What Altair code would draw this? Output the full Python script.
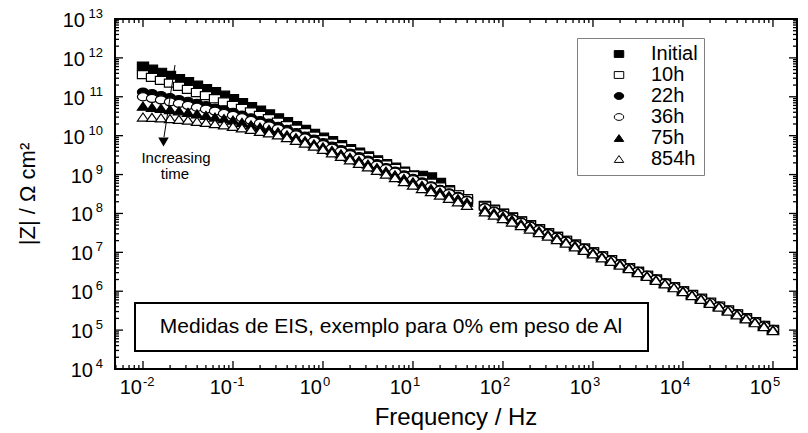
import altair as alt
import pandas as pd

# ---------------- data ----------------
log_freq = [
    -2.0, -1.9, -1.8, -1.7, -1.6, -1.5, -1.4, -1.3, -1.2, -1.1,
    -1.0, -0.9, -0.8, -0.7, -0.6, -0.5, -0.4, -0.3, -0.2, -0.1,
    0.0, 0.1, 0.2, 0.3, 0.4, 0.5, 0.6, 0.7, 0.8, 0.9,
    1.0, 1.1, 1.2, 1.3, 1.4, 1.5, 1.6,
    1.8, 1.9, 2.0, 2.1, 2.2, 2.3, 2.4, 2.5, 2.6, 2.7,
    2.8, 2.9, 3.0, 3.1, 3.2, 3.3, 3.4, 3.5, 3.6, 3.7,
    3.8, 3.9, 4.0, 4.1, 4.2, 4.3, 4.4, 4.5, 4.6, 4.7,
    4.8, 4.9, 5.0,
]

series_names = ["Initial", "10h", "22h", "36h", "75h", "854h"]

log_z_initial = [
    11.79, 11.71, 11.63, 11.55, 11.47, 11.39, 11.30, 11.21, 11.13, 11.04,
    10.95, 10.85, 10.75, 10.66, 10.56, 10.46, 10.36, 10.26, 10.16, 10.06,
    9.96, 9.87, 9.77, 9.67, 9.58, 9.48, 9.38, 9.28, 9.19, 9.09,
    8.99, 8.98, 8.94, 8.80, 8.61, 8.48, 8.33,
    8.21, 8.11, 8.01, 7.91, 7.81, 7.71, 7.61, 7.51, 7.41, 7.31,
    7.21, 7.11, 7.01, 6.91, 6.81, 6.71, 6.61, 6.51, 6.41, 6.31,
    6.21, 6.11, 6.01, 5.91, 5.81, 5.71, 5.61, 5.51, 5.41, 5.31,
    5.21, 5.11, 5.01,
]
log_z_10h = [
    11.57, 11.50, 11.42, 11.35, 11.27, 11.19, 11.11, 11.03, 10.95, 10.87,
    10.78, 10.70, 10.61, 10.52, 10.44, 10.35, 10.26, 10.17, 10.08, 9.99,
    9.90, 9.81, 9.72, 9.62, 9.53, 9.44, 9.34, 9.25, 9.16, 9.06,
    8.97, 8.87, 8.78, 8.68, 8.58, 8.48, 8.38,
    8.19, 8.09, 8.00, 7.90, 7.80, 7.70, 7.60, 7.50, 7.41, 7.31,
    7.21, 7.11, 7.01, 6.91, 6.81, 6.71, 6.61, 6.51, 6.41, 6.31,
    6.21, 6.11, 6.01, 5.92, 5.82, 5.72, 5.62, 5.52, 5.42, 5.32,
    5.22, 5.12, 5.02,
]
log_z_22h = [
    11.12, 11.08, 11.03, 10.98, 10.93, 10.88, 10.83, 10.77, 10.71, 10.66,
    10.60, 10.53, 10.46, 10.39, 10.32, 10.24, 10.16, 10.08, 9.99, 9.91,
    9.82, 9.73, 9.64, 9.55, 9.46, 9.37, 9.28, 9.18, 9.09, 8.99,
    8.90, 8.81, 8.71, 8.62, 8.53, 8.44, 8.34,
    8.15, 8.06, 7.97, 7.87, 7.78, 7.68, 7.59, 7.49, 7.39, 7.30,
    7.20, 7.10, 7.00, 6.90, 6.80, 6.71, 6.61, 6.51, 6.41, 6.31,
    6.21, 6.11, 6.01, 5.91, 5.81, 5.71, 5.61, 5.51, 5.42, 5.32,
    5.22, 5.12, 5.02,
]
log_z_36h = [
    11.00, 10.96, 10.92, 10.87, 10.83, 10.78, 10.73, 10.68, 10.63, 10.57,
    10.52, 10.46, 10.39, 10.32, 10.25, 10.18, 10.10, 10.02, 9.94, 9.86,
    9.77, 9.68, 9.60, 9.51, 9.42, 9.33, 9.24, 9.15, 9.06, 8.96,
    8.87, 8.78, 8.69, 8.60, 8.51, 8.42, 8.33,
    8.14, 8.05, 7.96, 7.86, 7.77, 7.67, 7.58, 7.48, 7.39, 7.29,
    7.19, 7.10, 7.00, 6.90, 6.80, 6.70, 6.60, 6.51, 6.41, 6.31,
    6.21, 6.11, 6.01, 5.91, 5.81, 5.71, 5.61, 5.51, 5.41, 5.31,
    5.21, 5.11, 5.01,
]
log_z_75h = [
    10.76, 10.73, 10.70, 10.67, 10.64, 10.60, 10.56, 10.52, 10.48, 10.44,
    10.40, 10.34, 10.28, 10.22, 10.16, 10.10, 10.02, 9.95, 9.87, 9.79,
    9.71, 9.62, 9.53, 9.44, 9.36, 9.27, 9.18, 9.09, 8.99, 8.90,
    8.81, 8.72, 8.64, 8.55, 8.46, 8.38, 8.29,
    8.10, 8.02, 7.93, 7.84, 7.74, 7.65, 7.55, 7.46, 7.37, 7.27,
    7.18, 7.08, 6.99, 6.89, 6.79, 6.70, 6.60, 6.50, 6.40, 6.30,
    6.20, 6.10, 6.01, 5.91, 5.81, 5.71, 5.61, 5.51, 5.41, 5.31,
    5.21, 5.11, 5.01,
]
log_z_854h = [
    10.48, 10.47, 10.46, 10.44, 10.42, 10.40, 10.37, 10.34, 10.31, 10.28,
    10.24, 10.20, 10.16, 10.11, 10.07, 10.02, 9.95, 9.88, 9.81, 9.73,
    9.65, 9.56, 9.47, 9.38, 9.29, 9.20, 9.11, 9.01, 8.92, 8.82,
    8.73, 8.64, 8.56, 8.47, 8.39, 8.30, 8.21,
    8.04, 7.96, 7.87, 7.78, 7.69, 7.60, 7.51, 7.42, 7.33, 7.24,
    7.14, 7.05, 6.96, 6.86, 6.77, 6.67, 6.58, 6.48, 6.38, 6.28,
    6.19, 6.09, 5.99, 5.89, 5.79, 5.69, 5.59, 5.49, 5.39, 5.29,
    5.19, 5.09, 4.99,
]

x_decades = [-2, -1, 0, 1, 2, 3, 4, 5]
y_decades = [4, 5, 6, 7, 8, 9, 10, 11, 12, 13]

x_title = "Frequency / Hz"
y_title = "|Z| / \u03a9 cm\u00b2"
note_text = "Medidas de EIS, exemplo para 0% em peso de Al"
arrow_lines = ["Increasing", "time"]

# ---------------- layout / style ----------------
FONT = "Liberation Sans"
W, H = 682, 350
x_dom = [10 ** -2.311, 10 ** 5.267]
y_dom = [1e4, 1e13]
x_scale = alt.Scale(type="log", domain=x_dom, nice=False)
y_scale = alt.Scale(type="log", domain=y_dom, nice=False)

all_series = [log_z_initial, log_z_10h, log_z_22h, log_z_36h, log_z_75h, log_z_854h]
rows = []
for i, (name, vals) in enumerate(zip(series_names, all_series)):
    for lf, lz in zip(log_freq, vals):
        rows.append({"series": name, "idx": i, "freq": 10 ** lf, "z": 10 ** lz})
df = pd.DataFrame(rows)

SQ = "M-1,-0.72L1,-0.72L1,0.72L-1,0.72Z"
CI = "M-1,0A1,0.72,0,1,1,1,0A1,0.72,0,1,1,-1,0Z"
TR = "M0,-0.72L1,0.72L-1,0.72Z"
shapes = [SQ, SQ, CI, CI, TR, TR]
fills = ["black", "white", "black", "white", "black", "white"]
strokes = ["black"] * 6

leg = alt.Legend(
    title=None, orient="none", legendX=462, legendY=19, padding=6,
    strokeColor="#808080", fillColor="white",
    labelFont=FONT, labelFontSize=20, labelColor="black",
    symbolSize=90, symbolStrokeColor="black", symbolStrokeWidth=1,
    rowPadding=1, symbolOffset=26, labelOffset=22,
)

points = alt.Chart(df).mark_point(
    filled=False, opacity=1, strokeWidth=1.2, size=125
).encode(
    x=alt.X("freq:Q", scale=x_scale, axis=None),
    y=alt.Y("z:Q", scale=y_scale, axis=None),
    shape=alt.Shape("series:N", scale=alt.Scale(domain=series_names, range=shapes), legend=leg),
    fill=alt.Fill("series:N", scale=alt.Scale(domain=series_names, range=fills), legend=leg),
    stroke=alt.Stroke("series:N", scale=alt.Scale(domain=series_names, range=strokes), legend=leg),
    order=alt.Order("idx:Q"),
)

# ticks (inward, on all four sides)
minor_x = [m * 10 ** k for k in range(-3, 6) for m in range(2, 10) if x_dom[0] <= m * 10 ** k <= x_dom[1]]
minor_y = [m * 10 ** k for k in range(4, 13) for m in range(2, 10)]
major_x = [10.0 ** e for e in x_decades]
major_y = [10.0 ** e for e in y_decades]


def xticks(vals, length):
    base = alt.Chart(pd.DataFrame({"v": vals})).encode(x=alt.X("v:Q", scale=x_scale, axis=None))
    b = base.mark_rule(color="black", strokeWidth=1.3).encode(y=alt.value(H), y2=alt.value(H - length))
    t = base.mark_rule(color="black", strokeWidth=1.3).encode(y=alt.value(0), y2=alt.value(length))
    return [b, t]


def yticks(vals, length):
    base = alt.Chart(pd.DataFrame({"v": vals})).encode(y=alt.Y("v:Q", scale=y_scale, axis=None))
    l = base.mark_rule(color="black", strokeWidth=1.3).encode(x=alt.value(0), x2=alt.value(length))
    r = base.mark_rule(color="black", strokeWidth=1.3).encode(x=alt.value(W), x2=alt.value(W - length))
    return [l, r]


tick_layers = xticks(major_x, 8) + xticks(minor_x, 4) + yticks(major_y, 8) + yticks(minor_y, 4)

# tick labels: "10" with a raised exponent
xl = pd.DataFrame({"v": major_x, "ex": [str(e) for e in x_decades], "ten": "10"})
x_ten = alt.Chart(xl).mark_text(font=FONT, fontSize=20, align="right", baseline="alphabetic", dx=-1).encode(
    x=alt.X("v:Q", scale=x_scale, axis=None), y=alt.value(H + 25), text="ten:N")
x_exp = alt.Chart(xl).mark_text(font=FONT, fontSize=13, align="left", baseline="alphabetic", dx=0).encode(
    x=alt.X("v:Q", scale=x_scale, axis=None), y=alt.value(H + 17), text="ex:N")

yl = pd.DataFrame({"v": major_y, "ex": [str(e) for e in y_decades], "ten": "10", "e": y_decades})
y_exp = alt.Chart(yl).mark_text(font=FONT, fontSize=13, align="right", baseline="alphabetic", dy=-1).encode(
    y=alt.Y("v:Q", scale=y_scale, axis=None), x=alt.value(-12), text="ex:N")
y_ten2 = alt.Chart(yl).transform_filter("datum.e >= 10").mark_text(
    font=FONT, fontSize=20, align="right", baseline="alphabetic", dy=8).encode(
    y=alt.Y("v:Q", scale=y_scale, axis=None), x=alt.value(-30), text="ten:N")
y_ten1 = alt.Chart(yl).transform_filter("datum.e < 10").mark_text(
    font=FONT, fontSize=20, align="right", baseline="alphabetic", dy=8).encode(
    y=alt.Y("v:Q", scale=y_scale, axis=None), x=alt.value(-22), text="ten:N")

one = pd.DataFrame({"k": [0]})
x_ttl = alt.Chart(one).mark_text(font=FONT, fontSize=24, align="center", baseline="alphabetic").encode(
    x=alt.value(W / 2), y=alt.value(H + 56), text=alt.value(x_title))
y_ttl = alt.Chart(one).mark_text(font=FONT, fontSize=22, align="center", baseline="middle", angle=270).encode(
    x=alt.value(-87), y=alt.value(H / 2), text=alt.value(y_title))

# annotation box
note_box = alt.Chart(one).mark_rect(fill="white", stroke="black", strokeWidth=2).encode(
    x=alt.value(20), x2=alt.value(533), y=alt.value(284), y2=alt.value(332))
note = alt.Chart(one).mark_text(font=FONT, fontSize=21, align="center", baseline="middle").encode(
    x=alt.value(276), y=alt.value(308), text=alt.value(note_text))

# "Increasing time" arrow
arrow_line = alt.Chart(one).mark_rule(color="black", strokeWidth=1).encode(
    x=alt.value(60), x2=alt.value(49), y=alt.value(46), y2=alt.value(118))
arrow_head = alt.Chart(one).mark_point(shape="triangle-down", filled=True, color="black", opacity=1, size=110).encode(
    x=alt.value(48.5), y=alt.value(123))
arrow_t1 = alt.Chart(one).mark_text(font=FONT, fontSize=15, align="center", baseline="alphabetic").encode(
    x=alt.value(61), y=alt.value(144), text=alt.value(arrow_lines[0]))
arrow_t2 = alt.Chart(one).mark_text(font=FONT, fontSize=15, align="center", baseline="alphabetic").encode(
    x=alt.value(60), y=alt.value(160), text=alt.value(arrow_lines[1]))

chart = alt.layer(
    *tick_layers, points, x_ten, x_exp, y_exp, y_ten2, y_ten1, x_ttl, y_ttl,
    note_box, note, arrow_line, arrow_head, arrow_t1, arrow_t2,
).properties(
    width=W, height=H,
    padding={"left": 115, "top": 19, "right": 11, "bottom": 64},
    autosize=alt.AutoSizeParams(type="none"),
    background="white",
).configure_view(stroke="black", strokeWidth=2)

chart.save("out.html", embed_options={"renderer": "svg", "actions": False})
